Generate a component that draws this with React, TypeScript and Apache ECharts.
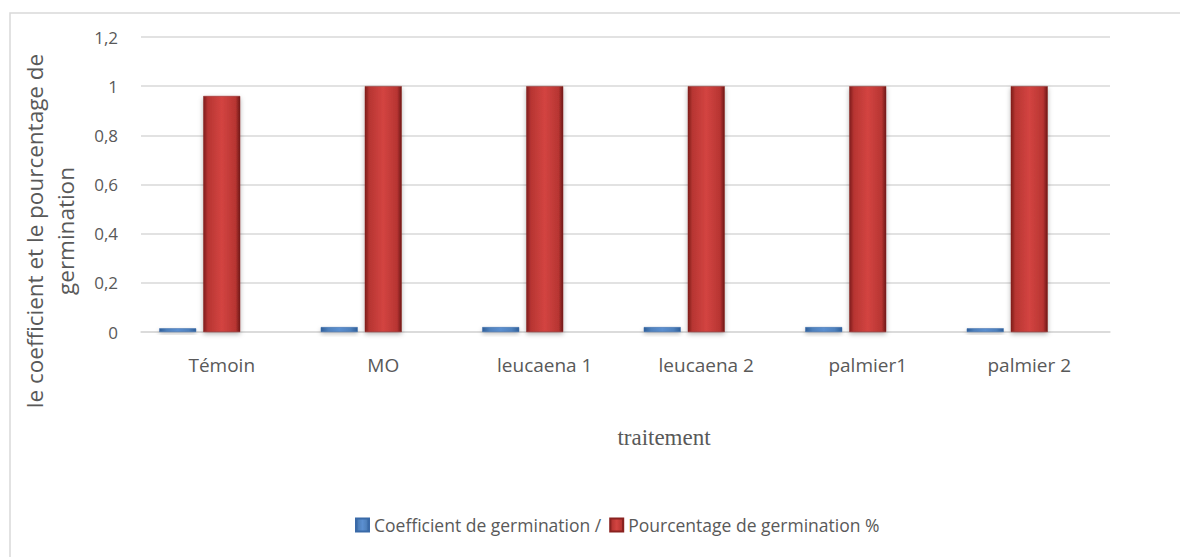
import React, { useEffect, useRef } from "react";
import * as echarts from "echarts";

const categories = ["Témoin", "MO", "leucaena 1", "leucaena 2", "palmier1", "palmier 2"];
const coefficientValues = [0.015, 0.02, 0.02, 0.02, 0.02, 0.015];
const pourcentageValues = [0.96, 1.0, 1.0, 1.0, 1.0, 1.0];
const seriesNames = ["Coefficient de germination /", "Pourcentage de germination %"];
const yAxisTitle = "le coefficient et le pourcentage de\ngermination";
const xAxisTitle = "traitement";

const FONT = "'Open Sans', 'Noto Sans', sans-serif";
const TXT = "#595959";

export default function App() {
  const ref = useRef<HTMLDivElement>(null);
  useEffect(() => {
    if (!ref.current) return;
    const chart = echarts.init(ref.current, null, { renderer: "svg" });
    const blue = new echarts.graphic.LinearGradient(0, 0, 1, 0, [
      { offset: 0, color: "#2f5f9a" },
      { offset: 0.2, color: "#4f81bd" },
      { offset: 0.5, color: "#5b8fd0" },
      { offset: 0.8, color: "#4f81bd" },
      { offset: 1, color: "#2f5f9a" },
    ]);
    const red = new echarts.graphic.LinearGradient(0, 0, 1, 0, [
      { offset: 0, color: "#7e1d1b" },
      { offset: 0.12, color: "#b73532" },
      { offset: 0.5, color: "#d34441" },
      { offset: 0.88, color: "#b73532" },
      { offset: 1, color: "#6e1816" },
    ]);
    chart.setOption({
      animation: false,
      backgroundColor: "#ffffff",
      textStyle: { fontFamily: FONT },
      grid: { left: 141, right: 70, top: 37, bottom: 225, containLabel: false },
      legend: {
        data: seriesNames,
        left: 350,
        top: 511,
        itemWidth: 13,
        itemHeight: 13,
        itemGap: 8,
        icon: "rect",
        textStyle: { color: TXT, fontSize: 17.5, fontFamily: FONT },
      },
      xAxis: {
        type: "category",
        data: categories,
        axisLine: { lineStyle: { color: "#d9d9d9", width: 1.5 } },
        axisTick: { show: false },
        axisLabel: { color: TXT, fontSize: 19, margin: 23, fontFamily: FONT },
      },
      yAxis: {
        type: "value",
        min: 0,
        max: 1.2,
        interval: 0.2,
        axisLine: { show: false },
        axisTick: { show: false },
        axisLabel: {
          color: TXT,
          fontSize: 17,
          margin: 23,
          fontFamily: FONT,
          formatter: (v: number) => String(Math.round(v * 10) / 10).replace(".", ","),
        },
        splitLine: { lineStyle: { color: "#d9d9d9", width: 1.5 } },
      },
      series: [
        {
          name: seriesNames[0],
          type: "bar",
          data: coefficientValues,
          barWidth: 37,
          barGap: "19%",
          itemStyle: {
            color: blue,
            borderColor: "#3a6aa8",
            borderWidth: 0.5,
            shadowColor: "rgba(0,0,0,0.25)",
            shadowBlur: 4,
            shadowOffsetY: 2,
          },
        },
        {
          name: seriesNames[1],
          type: "bar",
          data: pourcentageValues,
          barWidth: 37,
          barGap: "19%",
          itemStyle: {
            color: red,
            borderColor: "#8a2220",
            borderWidth: 0.5,
            shadowColor: "rgba(0,0,0,0.3)",
            shadowBlur: 5,
            shadowOffsetY: 2,
          },
        },
        {
          name: "spacer",
          type: "bar",
          data: categories.map(() => "-"),
          barWidth: 37,
          barGap: "19%",
          silent: true,
        },
      ],
      graphic: [
        {
          type: "rect",
          shape: { x: 10, y: 13, width: 1200, height: 560 },
          style: { fill: "none", stroke: "#d9d9d9", lineWidth: 1.5 },
          silent: true,
        },
        {
          type: "text",
          x: 50,
          y: 231,
          rotation: Math.PI / 2,
          style: {
            text: yAxisTitle,
            fill: TXT,
            fontSize: 22.5,
            fontFamily: FONT,
            align: "center",
            verticalAlign: "middle",
            lineHeight: 31,
          },
        },
        {
          type: "text",
          x: 664,
          y: 437,
          style: {
            text: xAxisTitle,
            fill: TXT,
            fontSize: 23,
            fontFamily: "'Liberation Serif', 'DejaVu Serif', serif",
            align: "center",
            verticalAlign: "middle",
          },
        },
      ],
    });
    return () => chart.dispose();
  }, []);
  return <div ref={ref} style={{ width: 1180, height: 557, position: "absolute", left: 0, top: 0 }} />;
}
